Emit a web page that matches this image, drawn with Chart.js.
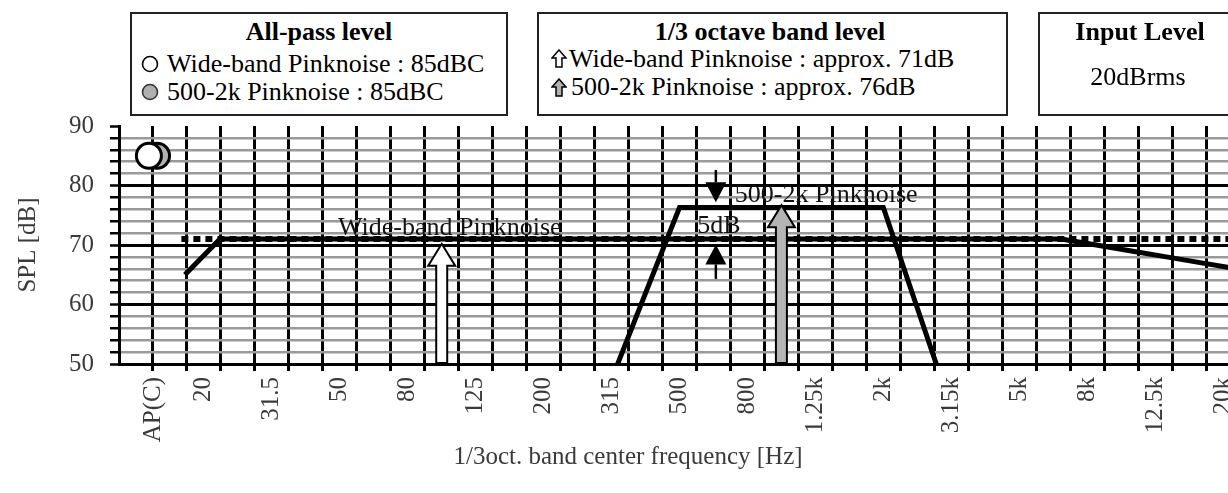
<!DOCTYPE html>
<html>
<head>
<meta charset="utf-8">
<script src="https://cdn.jsdelivr.net/npm/chart.js@4.4.1/dist/chart.umd.min.js"></script>
<style>
    html, body { margin: 0; padding: 0; background: #fff; overflow: hidden; }
    #wrap { position: relative; width: 1262px; height: 493px; }
    #chart { position: absolute; left: 0; top: 0; }
    .box { position: absolute; top: 12px; height: 104px; border: 2px solid #222; box-sizing: border-box; background: #fff; }
    .txt { position: absolute; font-family: 'Liberation Serif', 'Times New Roman', serif; font-size: 26px; line-height: 29px; color: #000; white-space: nowrap; }
    .bold { font-weight: bold; }
    .icon { position: absolute; }
</style>
</head>
<body>
<div id="wrap">
    <canvas id="chart" width="1262" height="493"></canvas>

    <!-- All-pass level -->
    <div class="box" style="left:130px; width:378px;"></div>
    <div class="txt bold" style="left:130px; width:378px; text-align:center; top:17px;">All-pass level</div>
    <svg class="icon" style="left:141px; top:55px;" width="18" height="18"><circle cx="9" cy="9" r="7.5" fill="#fff" stroke="#000" stroke-width="1.6"/></svg>
    <div class="txt" style="left:167px; top:49px;">Wide-band Pinknoise : 85dBC</div>
    <svg class="icon" style="left:141px; top:83px;" width="18" height="18"><circle cx="9" cy="9" r="7.5" fill="#b0b0b0" stroke="#333" stroke-width="1.6"/></svg>
    <div class="txt" style="left:167px; top:77px;">500-2k Pinknoise : 85dBC</div>

    <!-- 1/3 octave band level -->
    <div class="box" style="left:537px; width:471px;"></div>
    <div class="txt bold" style="left:537px; width:466px; text-align:center; top:17px;">1/3 octave band level</div>
    <svg class="icon" style="left:551px; top:49px;" width="16" height="19"><polygon points="8,1 15,9 11,9 11,18 5,18 5,9 1,9" fill="#fff" stroke="#000" stroke-width="1.5" stroke-linejoin="miter"/></svg>
    <div class="txt" style="left:569px; top:44px;">Wide-band Pinknoise : approx. 71dB</div>
    <svg class="icon" style="left:551px; top:78px;" width="16" height="19"><polygon points="8,1 15,9 11,9 11,18 5,18 5,9 1,9" fill="#b0b0b0" stroke="#000" stroke-width="1.5" stroke-linejoin="miter"/></svg>
    <div class="txt" style="left:571px; top:72px;">500-2k Pinknoise : approx. 76dB</div>

    <!-- Input level -->
    <div class="box" style="left:1038px; width:204px;"></div>
    <div class="txt bold" style="left:1038px; width:204px; text-align:center; top:17px;">Input Level</div>
    <div class="txt" style="left:1038px; width:200px; text-align:center; top:62px;">20dBrms</div>
</div>

<script>
// 1/3 octave bands on the x axis
const bands = ['20', '25', '31.5', '40', '50', '63', '80', '100', '125', '160', '200', '250', '315', '400',
    '500', '630', '800', '1k', '1.25k', '1.6k', '2k', '2.5k', '3.15k', '4k', '5k', '6.3k', '8k', '10k',
    '12.5k', '16k', '20k'];
const labeledBands = ['20', '31.5', '50', '80', '125', '200', '315', '500', '800', '1.25k', '2k', '3.15k',
    '5k', '8k', '12.5k', '20k'];
const apLabel = 'AP(C)';
const yTickLabels = [50, 60, 70, 80, 90];

// All-pass level [dBC]
const apWideBand = 85;
const ap500to2k = 85;

// 1/3 oct. band level [dB], one value per band (null = not shown)
const wideBand = [65, 71, 71, 71, 71, 71, 71, 71, 71, 71, 71, 71, 71, 71, 71, 71, 71, 71, 71, 71, 71,
    71, 71, 71, 71, 71, 70, 69, 68, 67, 66];
const band500to2k = [null, null, null, null, null, null, null, null, null, null, null, null, 47.4, 61.9,
    76.3, 76.3, 76.3, 76.3, 76.3, 76.3, 76.3, 59.4, 42.6, null, null, null, null, null, null, null, null];

// approx. level of the wide-band noise per band (dotted)
const wideLevel = 71;

// level arrows: band and tip level
const arrowBands = ['100', '1k'];
const arrowTips = [70.2, 76.7];

// x position of a band: one unit per band, AP(C) sits on x = 1
const apX = 1;
const bandX = i => i + 2.5;

const FONT = "'Liberation Serif', 'Times New Roman', serif";
const GREY_TEXT = '#3a3a3a';

function toPoints(values, pos) {
    const pts = [];
    values.forEach((v, i) => {
        if (v !== null) pts.push({ x: pos(i), y: v });
    });
    return pts;
}

const xTicks = [];
for (let k = 1; k <= 32; k++) xTicks.push(k);
labeledBands.forEach(b => xTicks.push(bandX(bands.indexOf(b))));
xTicks.sort((a, b) => a - b);

function xLabel(value) {
    if (value === apX) return apLabel;
    const b = labeledBands.find(name => bandX(bands.indexOf(name)) === value);
    return b || '';
}

function upArrow(ctx, cx, tipY, baseY, fill) {
    const hw = 13.5, sw = 5.5, hh = 22;
    ctx.beginPath();
    ctx.moveTo(cx, tipY);
    ctx.lineTo(cx + hw, tipY + hh);
    ctx.lineTo(cx + sw, tipY + hh);
    ctx.lineTo(cx + sw, baseY);
    ctx.lineTo(cx - sw, baseY);
    ctx.lineTo(cx - sw, tipY + hh);
    ctx.lineTo(cx - hw, tipY + hh);
    ctx.closePath();
    ctx.fillStyle = fill;
    ctx.fill();
    ctx.lineWidth = 2;
    ctx.strokeStyle = '#000';
    ctx.lineJoin = 'miter';
    ctx.stroke();
}

function markArrow(ctx, cx, fromY, tipY) {
    const dir = tipY > fromY ? 1 : -1;
    const hw = 10.5, hh = 20;
    ctx.strokeStyle = '#000';
    ctx.lineWidth = 2.5;
    ctx.beginPath();
    ctx.moveTo(cx, fromY);
    ctx.lineTo(cx, tipY - dir * hh);
    ctx.stroke();
    ctx.beginPath();
    ctx.moveTo(cx, tipY);
    ctx.lineTo(cx - hw, tipY - dir * hh);
    ctx.lineTo(cx + hw, tipY - dir * hh);
    ctx.closePath();
    ctx.fillStyle = '#000';
    ctx.fill();
}

const overlay = {
    id: 'overlay',
    afterDatasetsDraw(chart) {
        const { ctx, chartArea } = chart;
        const x = chart.scales.x, y = chart.scales.y;
        ctx.save();

        arrowBands.forEach((b, i) => {
            const fill = i === 0 ? '#fff' : '#b4b4b4';
            upArrow(ctx, x.getPixelForValue(bandX(bands.indexOf(b))), y.getPixelForValue(arrowTips[i]),
                chartArea.bottom - 1, fill);
        });

        // 5dB difference marks
        const mx = x.getPixelForValue(17.57);
        markArrow(ctx, mx, y.getPixelForValue(82.6), y.getPixelForValue(77.2));
        markArrow(ctx, mx, y.getPixelForValue(64.3), y.getPixelForValue(70.1));

        ctx.font = '26px ' + FONT;
        ctx.fillStyle = '#111';
        ctx.textAlign = 'left';
        ctx.textBaseline = 'middle';
        ctx.fillText('Wide-band Pinknoise', x.getPixelForValue(6.45), y.getPixelForValue(72.9));
        ctx.fillText('500-2k Pinknoise', x.getPixelForValue(18.13), y.getPixelForValue(78.3));
        ctx.fillText('5dB', x.getPixelForValue(17.02), y.getPixelForValue(73.1));
        ctx.restore();
    },
    afterDraw(chart) {
        const { ctx } = chart;
        ctx.save();
        ctx.font = '25px ' + FONT;
        ctx.fillStyle = GREY_TEXT;
        ctx.textAlign = 'center';
        ctx.textBaseline = 'middle';
        ctx.fillText('1/3oct. band center frequency [Hz]', 628, 457);
        ctx.restore();
    }
};

const ctx = document.getElementById('chart').getContext('2d');

const chart = new Chart(ctx, {
    type: 'scatter',
    data: {
        datasets: [
            {
                label: 'AP Wide-band',
                data: [{ x: apX - 0.12, y: apWideBand }],
                pointRadius: 12.5,
                pointBorderWidth: 3,
                pointBackgroundColor: '#fff',
                pointBorderColor: '#000',
                order: 0,
            },
            {
                label: 'AP 500-2k',
                data: [{ x: apX + 0.12, y: ap500to2k }],
                pointRadius: 12.5,
                pointBorderWidth: 3,
                pointBackgroundColor: '#b0b0b0',
                pointBorderColor: '#000',
                order: 1,
            },
            {
                // the wide-band curve sits on its own (hidden) band-index axis
                label: 'Wide-band Pinknoise',
                xAxisID: 'xw',
                data: toPoints(wideBand, i => i),
                showLine: true,
                borderColor: '#000',
                borderWidth: 5,
                pointRadius: 0,
                order: 2,
            },
            {
                label: '500-2k Pinknoise',
                data: toPoints(band500to2k, bandX),
                showLine: true,
                borderColor: '#000',
                borderWidth: 5,
                pointRadius: 0,
                order: 2,
            },
            {
                label: 'Wide-band level',
                xAxisID: 'xw',
                data: [
                    { x: -0.1, y: wideLevel },
                    { x: bands.length - 1, y: wideLevel },
                ],
                showLine: true,
                borderColor: '#000',
                borderWidth: 6,
                borderDash: [7, 5],
                borderCapStyle: 'butt',
                pointRadius: 0,
                order: 3,
            },
        ],
    },
    options: {
        responsive: false,
        animation: false,
        events: [],
        layout: {
            padding: { top: 126, right: 22, left: 0, bottom: 0 },
        },
        plugins: {
            legend: { display: false },
            tooltip: { enabled: false },
        },
        scales: {
            x: {
                type: 'linear',
                min: 0,
                max: 33,
                z: 0,
                afterBuildTicks: axis => {
                    axis.ticks = xTicks.map(v => ({ value: v }));
                },
                afterFit: axis => {
                    axis.height = 129;
                },
                ticks: {
                    autoSkip: false,
                    minRotation: 90,
                    maxRotation: 90,
                    padding: 6,
                    color: GREY_TEXT,
                    font: { family: FONT, size: 25 },
                    callback: value => xLabel(value),
                },
                grid: {
                    color: c => Number.isInteger(c.tick.value) ? '#000' : 'rgba(0,0,0,0)',
                    tickColor: c => Number.isInteger(c.tick.value) ? '#000' : 'rgba(0,0,0,0)',
                    lineWidth: 3,
                    tickLength: 7,
                },
                border: { color: '#000', width: 3 },
            },
            xw: {
                type: 'linear',
                display: false,
                min: -1.88,
                max: 30.1,
            },
            y: {
                min: 50,
                max: 90,
                z: -1,
                afterFit: axis => {
                    axis.width = 119;
                },
                ticks: {
                    stepSize: 2,
                    autoSkip: false,
                    padding: 16,
                    color: GREY_TEXT,
                    font: { family: FONT, size: 25 },
                    callback: value => yTickLabels.includes(value) ? String(value) : '',
                },
                grid: {
                    color: c => {
                        const v = c.tick.value;
                        if (v === 90) return 'rgba(0,0,0,0)';
                        return v % 10 === 0 ? '#000' : '#9a9a9a';
                    },
                    lineWidth: c => c.tick.value % 10 === 0 ? 3 : 2.5,
                    tickColor: '#000',
                    tickWidth: 2.5,
                    tickLength: 9,
                },
                border: { color: '#000', width: 3 },
                title: {
                    display: true,
                    text: 'SPL [dB]',
                    color: GREY_TEXT,
                    font: { family: FONT, size: 25 },
                    padding: { top: 13, bottom: 0 },
                },
            },
        },
    },
    plugins: [overlay],
});
</script>
</body>
</html>
